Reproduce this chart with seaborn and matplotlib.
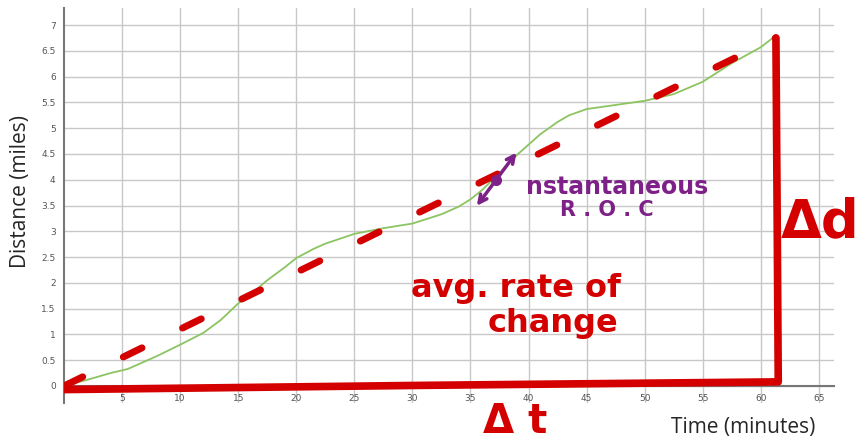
import numpy as np
import pandas as pd
import matplotlib
matplotlib.use("Agg")
import matplotlib.pyplot as plt
import seaborn as sns

# data
time_min = [0, 2, 4, 5.5, 8, 10, 12, 13.5, 15, 16.5, 17.5, 19, 20, 21.5, 22.5,
            25, 27.5, 30, 32.5, 34, 35, 36, 37.5, 39, 40, 41, 42.5, 43.5, 45,
            47.5, 50, 52.5, 55, 57.5, 60, 61.2]
distance_mi = [0, 0.12, 0.25, 0.33, 0.58, 0.8, 1.03, 1.28, 1.6, 1.86, 2.05,
               2.3, 2.48, 2.66, 2.76, 2.95, 3.06, 3.15, 3.33, 3.48, 3.62, 3.8,
               4.13, 4.48, 4.68, 4.88, 5.12, 5.25, 5.37, 5.45, 5.53, 5.66, 5.9,
               6.26, 6.57, 6.78]

# secant (average rate of change)
avg_t = [0, 61.3]
avg_d = [0, 6.75]

# delta t / delta d box (hand drawn)
box_t = [0, 30, 61.5, 61.4, 61.3]
box_d = [-0.07, 0.01, 0.08, 3.5, 6.75]

# tangent arrow (instantaneous)
tan_t = [35.4, 39.1]
tan_d = [3.45, 4.57]
tan_pt = (37.2, 3.99)

x_ticks = list(range(5, 70, 5))
y_ticks = [0, 0.5, 1, 1.5, 2, 2.5, 3, 3.5, 4, 4.5, 5, 5.5, 6, 6.5, 7]

RED = "#d40000"
GREEN = "#8cc461"
PURPLE = "#7d2087"

sns.set_style("white")
plt.rcParams["font.family"] = ["DejaVu Sans"]

fig = plt.figure(figsize=(8.64, 4.42), dpi=100)
ax = fig.add_axes([64 / 864, 39 / 442, 770 / 864, 395 / 442])

df = pd.DataFrame({"t": time_min, "d": distance_mi})
sns.lineplot(data=df, x="t", y="d", ax=ax, color=GREEN, linewidth=1.3, zorder=3)

ax.set_xlim(0, 66.3)
ax.set_ylim(-0.33, 7.33)
ax.set_xticks(x_ticks)
ax.set_yticks(y_ticks)
ax.set_xticklabels([str(v) for v in x_ticks])
ax.set_yticklabels([f"{v:g}" for v in y_ticks])
ax.grid(True, color="#c8c8c8", linewidth=1.0)
ax.set_axisbelow(True)

for s in ["top", "right"]:
    ax.spines[s].set_visible(False)
ax.spines["bottom"].set_position(("data", 0))
ax.spines["left"].set_position(("data", 0))
ax.spines["bottom"].set_color("#777777")
ax.spines["left"].set_color("#777777")
ax.spines["bottom"].set_linewidth(1.5)
ax.spines["left"].set_linewidth(1.5)
ax.tick_params(axis="both", labelsize=6.5, labelcolor="#555555", color="#999999",
               length=4, direction="out", pad=2)
ax.set_xlabel("")
ax.set_ylabel("")

# average rate of change, dashed
sns.lineplot(x=avg_t, y=avg_d, ax=ax, color=RED, linewidth=5, zorder=4,
             dashes=False)
ax.lines[-1].set_dashes((3, 6.5))
ax.lines[-1].set_dash_capstyle("round")

# delta box
sns.lineplot(x=box_t, y=box_d, ax=ax, color=RED, linewidth=5.5, zorder=4,
             sort=False)
ax.lines[-1].set_solid_capstyle("round")
ax.lines[-1].set_solid_joinstyle("round")

# tangent arrow
ax.annotate("", xy=(tan_t[0], tan_d[0]), xytext=(tan_t[1], tan_d[1]),
            arrowprops=dict(arrowstyle="<->", color=PURPLE, lw=2.5,
                            mutation_scale=14), zorder=5)
ax.plot(*tan_pt, "o", color=PURPLE, markersize=7, zorder=6)

ax.text(47.6, 3.86, "nstantaneous", color=PURPLE, fontsize=17,
        fontweight="bold", ha="center", va="center", zorder=6)
ax.text(46.7, 3.42, "R . O . C", color=PURPLE, fontsize=15, fontweight="bold",
        ha="center", va="center", zorder=6)
ax.text(38.9, 1.9, "avg. rate of", color=RED, fontsize=23,
        fontweight="bold", ha="center", va="center", zorder=6)
ax.text(42.1, 1.22, "change", color=RED, fontsize=23, fontweight="bold",
        ha="center", va="center", zorder=6)

fig.text(0.949, 0.498, "\u0394d", color=RED, fontsize=38, fontweight="bold",
         ha="center", va="center")
fig.text(0.596, 0.045, "\u0394 t", color=RED, fontsize=29, fontweight="bold",
         ha="center", va="center")

fig.text(0.86, 0.032, "Time (minutes)", fontsize=15, family=["Open Sans"],
         ha="center", va="center")
fig.text(0.024, 0.566, "Distance (miles)", fontsize=15, family=["Open Sans"],
         rotation=90, ha="center", va="center")

fig.savefig("out.png", dpi=100)
